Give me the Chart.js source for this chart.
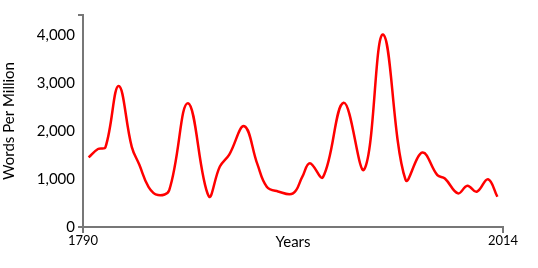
<!DOCTYPE html>
<html>
<head>
<meta charset="utf-8">
<script src="https://cdn.jsdelivr.net/npm/chart.js@4"></script>
<style>
  body { margin: 0; background: #fff; }
  canvas { display: block; }
</style>
</head>
<body>
<canvas id="chart" width="538" height="268"></canvas>
<script>
// values
const years = [1793, 1798, 1802, 1809, 1816, 1820, 1825, 1830, 1836, 1846,
  1857, 1863, 1868, 1876, 1883, 1888, 1894, 1902, 1907, 1911, 1918, 1929, 1940,
  1950, 1962, 1971, 1979, 1983, 1990, 1995, 2000, 2006, 2011];
const wordsPerMillion = [1450, 1625, 1665, 2940, 1670, 1300, 830, 665, 770, 2580,
  645, 1260, 1510, 2100, 1310, 840, 740, 700, 1050, 1330, 1040, 2590, 1200,
  4010, 985, 1550, 1080, 1010, 700, 860, 735, 995, 630];
const xTicks = [1790, 2014];
const yTicks = [0, 1000, 2000, 3000, 4000];
const yMax = 4417;

const font = "Lato, 'Open Sans', sans-serif";
const axisColor = "#777";

new Chart(document.getElementById("chart"), {
  type: "line",
  data: {
    datasets: [{
      data: years.map((y, i) => ({ x: y, y: wordsPerMillion[i] })),
      borderColor: "#ff0000",
      borderWidth: 2.5,
      pointRadius: 0,
      fill: false,
      tension: 0.4
    }]
  },
  options: {
    responsive: false,
    animation: false,
    layout: { padding: { left: 0, right: 35, top: 15, bottom: 0 } },
    plugins: { legend: { display: false }, tooltip: { enabled: false } },
    scales: {
      x: {
        type: "linear",
        min: xTicks[0],
        max: xTicks[1],
        afterBuildTicks: s => { s.ticks = xTicks.map(v => ({ value: v })); },
        afterFit: s => { s.height = 41; },
        ticks: {
          callback: v => String(v),
          font: { family: font, size: 13 },
          color: "#000",
          padding: 0,
          maxRotation: 0,
          autoSkip: false
        },
        grid: { drawOnChartArea: false, tickLength: 6, color: axisColor, lineWidth: 2 },
        border: { color: axisColor, width: 2 },
        title: {
          display: true,
          text: "Years",
          font: { family: font, size: 15 },
          color: "#000",
          padding: { top: 0, bottom: 17 }
        }
      },
      y: {
        min: 0,
        max: yMax,
        afterBuildTicks: s => { s.ticks = yTicks.concat([yMax]).map(v => ({ value: v })); },
        afterFit: s => { s.width = 83; },
        ticks: {
          callback: v => (v === yMax ? "" : v.toLocaleString("en-US")),
          font: { family: font, size: 15 },
          color: "#000",
          padding: 3
        },
        grid: {
          drawOnChartArea: false,
          tickLength: 5,
          lineWidth: 2,
          color: ctx => (ctx.tick && (ctx.tick.value === 0 || ctx.tick.value === yMax)) ? axisColor : "rgba(0,0,0,0)"
        },
        border: { color: axisColor, width: 2 },
        title: {
          display: true,
          text: "Words Per Million",
          font: { family: font, size: 15 },
          color: "#000",
          padding: { top: 0, bottom: 0 }
        }
      }
    }
  }
});
</script>
</body>
</html>
